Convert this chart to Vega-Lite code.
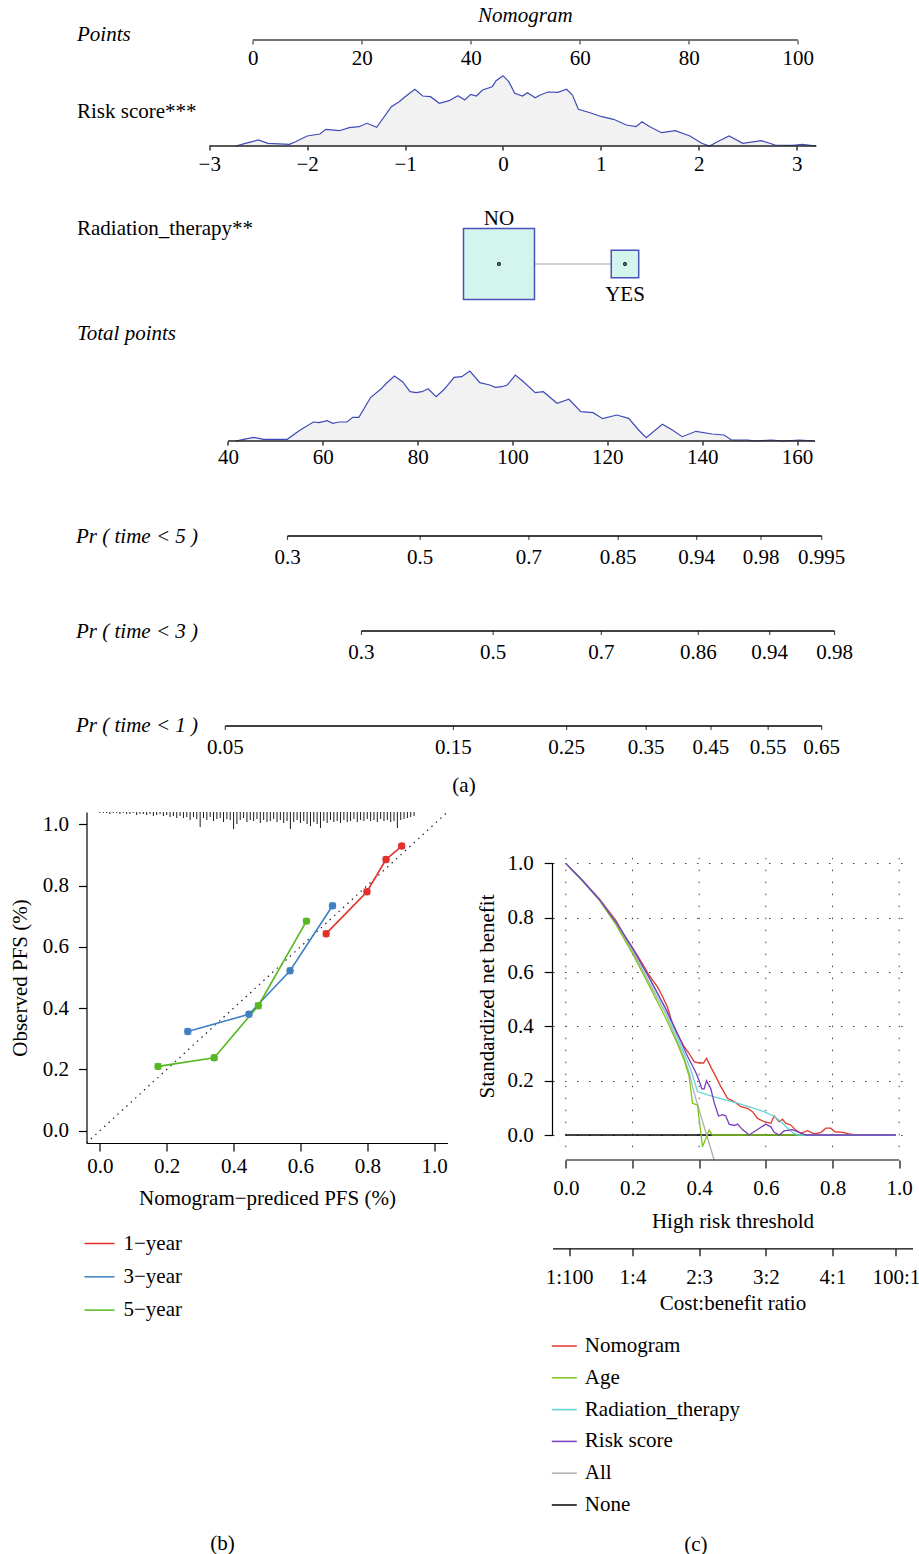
{
  "$schema": "https://vega.github.io/schema/vega-lite/v6.json",
  "autosize": {"type": "pad"},
  "padding": {"left": 9.5, "top": 0, "right": 0, "bottom": 0},
  "background": "white",
  "config": {
    "font": "Liberation Serif",
    "view": {"stroke": null},
    "axis": {"labelFont": "Liberation Serif", "titleFont": "Liberation Serif", "labelFontSize": 21, "titleFontSize": 21, "titleFontWeight": "normal", "labelColor": "#000", "titleColor": "#000", "tickColor": "#000", "domainColor": "#000", "grid": false, "labelFlush": false, "labelOverlap": false, "tickWidth": 1.2, "domainWidth": 1.2},
    "legend": {"labelFont": "Liberation Serif", "labelFontSize": 21, "labelColor": "#000", "padding": 0},
    "text": {"font": "Liberation Serif", "fontSize": 21, "color": "#000"},
    "title": {"font": "Liberation Serif", "fontSize": 21, "fontWeight": "normal", "color": "#000", "offset": 0}
  },
  "datasets": {
    "pointsTicks": [
      {"row": "Points", "points": 0}, {"row": "Points", "points": 20}, {"row": "Points", "points": 40}, {"row": "Points", "points": 60}, {"row": "Points", "points": 80}, {"row": "Points", "points": 100}
    ],
    "riskDens": [
      {"score": -2.73, "density": 0}, {"score": -2.63, "density": 0.027}, {"score": -2.5, "density": 0.06}, {"score": -2.4, "density": 0.027}, {"score": -2.18, "density": 0.017}, {"score": -2.12, "density": 0.043}, {"score": -2.0, "density": 0.1}, {"score": -1.87, "density": 0.12}, {"score": -1.81, "density": 0.167}, {"score": -1.67, "density": 0.153}, {"score": -1.57, "density": 0.183}, {"score": -1.47, "density": 0.193}, {"score": -1.39, "density": 0.227}, {"score": -1.29, "density": 0.187}, {"score": -1.14, "density": 0.393}, {"score": -1.06, "density": 0.443}, {"score": -1.0, "density": 0.493}, {"score": -0.9, "density": 0.567}, {"score": -0.82, "density": 0.5}, {"score": -0.74, "density": 0.493}, {"score": -0.65, "density": 0.427}, {"score": -0.55, "density": 0.453}, {"score": -0.46, "density": 0.503}, {"score": -0.39, "density": 0.46}, {"score": -0.33, "density": 0.517}, {"score": -0.27, "density": 0.5}, {"score": -0.21, "density": 0.56}, {"score": -0.11, "density": 0.593}, {"score": -0.07, "density": 0.653}, {"score": 0.0, "density": 0.703}, {"score": 0.06, "density": 0.643}, {"score": 0.12, "density": 0.527}, {"score": 0.2, "density": 0.5}, {"score": 0.25, "density": 0.533}, {"score": 0.33, "density": 0.483}, {"score": 0.38, "density": 0.51}, {"score": 0.46, "density": 0.54}, {"score": 0.56, "density": 0.537}, {"score": 0.65, "density": 0.567}, {"score": 0.71, "density": 0.51}, {"score": 0.77, "density": 0.367}, {"score": 0.89, "density": 0.333}, {"score": 1.01, "density": 0.293}, {"score": 1.13, "density": 0.267}, {"score": 1.26, "density": 0.21}, {"score": 1.36, "density": 0.193}, {"score": 1.42, "density": 0.243}, {"score": 1.5, "density": 0.193}, {"score": 1.62, "density": 0.133}, {"score": 1.76, "density": 0.153}, {"score": 1.91, "density": 0.1}, {"score": 2.03, "density": 0.027}, {"score": 2.11, "density": 0}, {"score": 2.19, "density": 0.043}, {"score": 2.31, "density": 0.1}, {"score": 2.45, "density": 0.027}, {"score": 2.64, "density": 0.053}, {"score": 2.78, "density": 0.01}, {"score": 2.96, "density": 0.007}, {"score": 3.06, "density": 0.017}, {"score": 3.2, "density": 0}
    ],
    "totalDens": [
      {"tp": 41.6, "density": 0}, {"tp": 43.3, "density": 0.017}, {"tp": 45.4, "density": 0.037}, {"tp": 47.5, "density": 0.017}, {"tp": 52.5, "density": 0.017}, {"tp": 55.0, "density": 0.103}, {"tp": 58.0, "density": 0.19}, {"tp": 59.2, "density": 0.183}, {"tp": 60.9, "density": 0.203}, {"tp": 62.1, "density": 0.177}, {"tp": 63.4, "density": 0.19}, {"tp": 65.1, "density": 0.19}, {"tp": 66.3, "density": 0.237}, {"tp": 67.6, "density": 0.237}, {"tp": 70.1, "density": 0.437}, {"tp": 72.2, "density": 0.517}, {"tp": 73.4, "density": 0.577}, {"tp": 75.1, "density": 0.65}, {"tp": 76.8, "density": 0.593}, {"tp": 78.4, "density": 0.493}, {"tp": 79.7, "density": 0.483}, {"tp": 80.9, "density": 0.493}, {"tp": 82.2, "density": 0.523}, {"tp": 83.9, "density": 0.443}, {"tp": 85.6, "density": 0.517}, {"tp": 87.7, "density": 0.637}, {"tp": 89.3, "density": 0.643}, {"tp": 91.0, "density": 0.7}, {"tp": 93.1, "density": 0.583}, {"tp": 95.2, "density": 0.56}, {"tp": 96.4, "density": 0.537}, {"tp": 97.7, "density": 0.543}, {"tp": 98.9, "density": 0.56}, {"tp": 100.6, "density": 0.66}, {"tp": 102.3, "density": 0.593}, {"tp": 104.8, "density": 0.483}, {"tp": 106.5, "density": 0.493}, {"tp": 109.4, "density": 0.377}, {"tp": 111.9, "density": 0.417}, {"tp": 114.4, "density": 0.293}, {"tp": 117.0, "density": 0.283}, {"tp": 119.0, "density": 0.223}, {"tp": 122.0, "density": 0.26}, {"tp": 124.5, "density": 0.227}, {"tp": 126.6, "density": 0.11}, {"tp": 128.2, "density": 0.033}, {"tp": 131.6, "density": 0.167}, {"tp": 133.7, "density": 0.11}, {"tp": 135.8, "density": 0.043}, {"tp": 138.7, "density": 0.097}, {"tp": 142.1, "density": 0.07}, {"tp": 144.6, "density": 0.06}, {"tp": 146.2, "density": 0.01}, {"tp": 149.6, "density": 0.01}, {"tp": 151.3, "density": 0}, {"tp": 154.6, "density": 0.01}, {"tp": 157.1, "density": 0}, {"tp": 160.5, "density": 0.01}, {"tp": 163.8, "density": 0}
    ],
    "rad": [
      {"level": "NO", "points": 45.17, "share": 0.87},
      {"level": "YES", "points": 68.29, "share": 0.13}
    ],
    "prTicks": [
      {"row": "Pr5", "label": "0.3", "tp": 52.55}, {"row": "Pr5", "label": "0.5", "tp": 80.53}, {"row": "Pr5", "label": "0.7", "tp": 103.46}, {"row": "Pr5", "label": "0.85", "tp": 122.29}, {"row": "Pr5", "label": "0.94", "tp": 138.85}, {"row": "Pr5", "label": "0.98", "tp": 152.41}, {"row": "Pr5", "label": "0.995", "tp": 165.21},
      {"row": "Pr3", "label": "0.3", "tp": 68.15}, {"row": "Pr3", "label": "0.5", "tp": 95.93}, {"row": "Pr3", "label": "0.7", "tp": 118.73}, {"row": "Pr3", "label": "0.86", "tp": 139.18}, {"row": "Pr3", "label": "0.94", "tp": 154.24}, {"row": "Pr3", "label": "0.98", "tp": 167.91},
      {"row": "Pr1", "label": "0.05", "tp": 39.43}, {"row": "Pr1", "label": "0.15", "tp": 87.54}, {"row": "Pr1", "label": "0.25", "tp": 111.41}, {"row": "Pr1", "label": "0.35", "tp": 128.2}, {"row": "Pr1", "label": "0.45", "tp": 141.86}, {"row": "Pr1", "label": "0.55", "tp": 153.92}, {"row": "Pr1", "label": "0.65", "tp": 165.21}
    ],
    "calib": [
      {"year": "1−year", "pred": 0.677, "obs": 0.643}, {"year": "1−year", "pred": 0.799, "obs": 0.78}, {"year": "1−year", "pred": 0.856, "obs": 0.885}, {"year": "1−year", "pred": 0.903, "obs": 0.929},
      {"year": "3−year", "pred": 0.263, "obs": 0.324}, {"year": "3−year", "pred": 0.446, "obs": 0.38}, {"year": "3−year", "pred": 0.569, "obs": 0.522}, {"year": "3−year", "pred": 0.696, "obs": 0.734},
      {"year": "5−year", "pred": 0.174, "obs": 0.21}, {"year": "5−year", "pred": 0.342, "obs": 0.238}, {"year": "5−year", "pred": 0.474, "obs": 0.408}, {"year": "5−year", "pred": 0.618, "obs": 0.684}
    ],
    "rug": [
      {"p": 0.0, "n": 1}, {"p": 0.01, "n": 1}, {"p": 0.02, "n": 1}, {"p": 0.03, "n": 2}, {"p": 0.04, "n": 1}, {"p": 0.05, "n": 1}, {"p": 0.06, "n": 2}, {"p": 0.07, "n": 1}, {"p": 0.08, "n": 2}, {"p": 0.09, "n": 2},
      {"p": 0.1, "n": 1}, {"p": 0.11, "n": 3}, {"p": 0.12, "n": 2}, {"p": 0.13, "n": 2}, {"p": 0.14, "n": 3}, {"p": 0.15, "n": 2}, {"p": 0.16, "n": 4}, {"p": 0.17, "n": 3}, {"p": 0.18, "n": 2}, {"p": 0.19, "n": 4},
      {"p": 0.2, "n": 3}, {"p": 0.21, "n": 5}, {"p": 0.22, "n": 4}, {"p": 0.23, "n": 6}, {"p": 0.24, "n": 4}, {"p": 0.25, "n": 6}, {"p": 0.26, "n": 5}, {"p": 0.27, "n": 8}, {"p": 0.28, "n": 5}, {"p": 0.29, "n": 7},
      {"p": 0.3, "n": 15}, {"p": 0.31, "n": 6}, {"p": 0.32, "n": 8}, {"p": 0.33, "n": 5}, {"p": 0.34, "n": 9}, {"p": 0.35, "n": 7}, {"p": 0.36, "n": 6}, {"p": 0.37, "n": 10}, {"p": 0.38, "n": 7}, {"p": 0.39, "n": 8},
      {"p": 0.4, "n": 17}, {"p": 0.41, "n": 12}, {"p": 0.42, "n": 8}, {"p": 0.43, "n": 6}, {"p": 0.44, "n": 10}, {"p": 0.45, "n": 8}, {"p": 0.46, "n": 9}, {"p": 0.47, "n": 7}, {"p": 0.48, "n": 11}, {"p": 0.49, "n": 8},
      {"p": 0.5, "n": 10}, {"p": 0.51, "n": 9}, {"p": 0.52, "n": 7}, {"p": 0.53, "n": 10}, {"p": 0.54, "n": 8}, {"p": 0.55, "n": 11}, {"p": 0.56, "n": 9}, {"p": 0.57, "n": 17}, {"p": 0.58, "n": 10}, {"p": 0.59, "n": 8},
      {"p": 0.6, "n": 11}, {"p": 0.61, "n": 9}, {"p": 0.62, "n": 12}, {"p": 0.63, "n": 14}, {"p": 0.64, "n": 10}, {"p": 0.65, "n": 12}, {"p": 0.66, "n": 16}, {"p": 0.67, "n": 9}, {"p": 0.68, "n": 11}, {"p": 0.69, "n": 8},
      {"p": 0.7, "n": 10}, {"p": 0.71, "n": 9}, {"p": 0.72, "n": 11}, {"p": 0.73, "n": 8}, {"p": 0.74, "n": 10}, {"p": 0.75, "n": 9}, {"p": 0.76, "n": 7}, {"p": 0.77, "n": 10}, {"p": 0.78, "n": 8}, {"p": 0.79, "n": 9},
      {"p": 0.8, "n": 7}, {"p": 0.81, "n": 9}, {"p": 0.82, "n": 8}, {"p": 0.83, "n": 10}, {"p": 0.84, "n": 7}, {"p": 0.85, "n": 9}, {"p": 0.86, "n": 8}, {"p": 0.87, "n": 10}, {"p": 0.88, "n": 9}, {"p": 0.89, "n": 16},
      {"p": 0.9, "n": 8}, {"p": 0.91, "n": 7}, {"p": 0.92, "n": 6}, {"p": 0.93, "n": 5}, {"p": 0.94, "n": 4}
    ],
    "dca": [
      {"model": "None", "t": 0, "nb": 0}, {"model": "None", "t": 0.99, "nb": 0},
      {"model": "All", "t": 0, "nb": 1}, {"model": "All", "t": 0.05, "nb": 0.935}, {"model": "All", "t": 0.1, "nb": 0.868}, {"model": "All", "t": 0.15, "nb": 0.78}, {"model": "All", "t": 0.2, "nb": 0.677}, {"model": "All", "t": 0.25, "nb": 0.562}, {"model": "All", "t": 0.3, "nb": 0.447}, {"model": "All", "t": 0.35, "nb": 0.3}, {"model": "All", "t": 0.37, "nb": 0.23}, {"model": "All", "t": 0.385, "nb": 0.155}, {"model": "All", "t": 0.405, "nb": 0.071}, {"model": "All", "t": 0.425, "nb": -0.01}, {"model": "All", "t": 0.445, "nb": -0.092},
      {"model": "Nomogram", "t": 0, "nb": 1}, {"model": "Nomogram", "t": 0.05, "nb": 0.937}, {"model": "Nomogram", "t": 0.1, "nb": 0.87}, {"model": "Nomogram", "t": 0.15, "nb": 0.79}, {"model": "Nomogram", "t": 0.175, "nb": 0.737}, {"model": "Nomogram", "t": 0.2, "nb": 0.69}, {"model": "Nomogram", "t": 0.225, "nb": 0.64}, {"model": "Nomogram", "t": 0.245, "nb": 0.598}, {"model": "Nomogram", "t": 0.26, "nb": 0.57}, {"model": "Nomogram", "t": 0.275, "nb": 0.545}, {"model": "Nomogram", "t": 0.29, "nb": 0.51}, {"model": "Nomogram", "t": 0.305, "nb": 0.47}, {"model": "Nomogram", "t": 0.32, "nb": 0.41}, {"model": "Nomogram", "t": 0.335, "nb": 0.372}, {"model": "Nomogram", "t": 0.355, "nb": 0.325}, {"model": "Nomogram", "t": 0.37, "nb": 0.3}, {"model": "Nomogram", "t": 0.385, "nb": 0.27}, {"model": "Nomogram", "t": 0.4, "nb": 0.265}, {"model": "Nomogram", "t": 0.413, "nb": 0.265}, {"model": "Nomogram", "t": 0.422, "nb": 0.282}, {"model": "Nomogram", "t": 0.435, "nb": 0.25}, {"model": "Nomogram", "t": 0.45, "nb": 0.215}, {"model": "Nomogram", "t": 0.465, "nb": 0.178}, {"model": "Nomogram", "t": 0.485, "nb": 0.135}, {"model": "Nomogram", "t": 0.505, "nb": 0.123}, {"model": "Nomogram", "t": 0.525, "nb": 0.104}, {"model": "Nomogram", "t": 0.545, "nb": 0.098}, {"model": "Nomogram", "t": 0.56, "nb": 0.086}, {"model": "Nomogram", "t": 0.575, "nb": 0.061}, {"model": "Nomogram", "t": 0.595, "nb": 0.049}, {"model": "Nomogram", "t": 0.615, "nb": 0.043}, {"model": "Nomogram", "t": 0.625, "nb": 0.07}, {"model": "Nomogram", "t": 0.64, "nb": 0.049}, {"model": "Nomogram", "t": 0.65, "nb": 0.058}, {"model": "Nomogram", "t": 0.66, "nb": 0.043}, {"model": "Nomogram", "t": 0.675, "nb": 0.037}, {"model": "Nomogram", "t": 0.69, "nb": 0.018}, {"model": "Nomogram", "t": 0.705, "nb": 0.006}, {"model": "Nomogram", "t": 0.725, "nb": 0.016}, {"model": "Nomogram", "t": 0.745, "nb": 0.004}, {"model": "Nomogram", "t": 0.765, "nb": 0.009}, {"model": "Nomogram", "t": 0.78, "nb": 0.025}, {"model": "Nomogram", "t": 0.795, "nb": 0.025}, {"model": "Nomogram", "t": 0.807, "nb": 0.012}, {"model": "Nomogram", "t": 0.83, "nb": 0.01}, {"model": "Nomogram", "t": 0.85, "nb": 0.004}, {"model": "Nomogram", "t": 0.87, "nb": 0}, {"model": "Nomogram", "t": 0.99, "nb": 0},
      {"model": "Age", "t": 0, "nb": 1}, {"model": "Age", "t": 0.05, "nb": 0.935}, {"model": "Age", "t": 0.1, "nb": 0.865}, {"model": "Age", "t": 0.15, "nb": 0.775}, {"model": "Age", "t": 0.2, "nb": 0.668}, {"model": "Age", "t": 0.25, "nb": 0.55}, {"model": "Age", "t": 0.3, "nb": 0.43}, {"model": "Age", "t": 0.335, "nb": 0.335}, {"model": "Age", "t": 0.355, "nb": 0.275}, {"model": "Age", "t": 0.37, "nb": 0.215}, {"model": "Age", "t": 0.38, "nb": 0.117}, {"model": "Age", "t": 0.395, "nb": 0.11}, {"model": "Age", "t": 0.41, "nb": -0.043}, {"model": "Age", "t": 0.43, "nb": 0.018}, {"model": "Age", "t": 0.44, "nb": 0}, {"model": "Age", "t": 0.99, "nb": 0},
      {"model": "Radiation_therapy", "t": 0, "nb": 1}, {"model": "Radiation_therapy", "t": 0.05, "nb": 0.937}, {"model": "Radiation_therapy", "t": 0.1, "nb": 0.868}, {"model": "Radiation_therapy", "t": 0.15, "nb": 0.785}, {"model": "Radiation_therapy", "t": 0.2, "nb": 0.686}, {"model": "Radiation_therapy", "t": 0.25, "nb": 0.576}, {"model": "Radiation_therapy", "t": 0.3, "nb": 0.46}, {"model": "Radiation_therapy", "t": 0.345, "nb": 0.33}, {"model": "Radiation_therapy", "t": 0.375, "nb": 0.24}, {"model": "Radiation_therapy", "t": 0.395, "nb": 0.16}, {"model": "Radiation_therapy", "t": 0.445, "nb": 0.14}, {"model": "Radiation_therapy", "t": 0.515, "nb": 0.117}, {"model": "Radiation_therapy", "t": 0.56, "nb": 0.1}, {"model": "Radiation_therapy", "t": 0.595, "nb": 0.086}, {"model": "Radiation_therapy", "t": 0.625, "nb": 0.068}, {"model": "Radiation_therapy", "t": 0.645, "nb": 0.05}, {"model": "Radiation_therapy", "t": 0.665, "nb": 0.025}, {"model": "Radiation_therapy", "t": 0.685, "nb": 0.005}, {"model": "Radiation_therapy", "t": 0.7, "nb": 0}, {"model": "Radiation_therapy", "t": 0.99, "nb": 0},
      {"model": "Risk score", "t": 0, "nb": 1}, {"model": "Risk score", "t": 0.05, "nb": 0.937}, {"model": "Risk score", "t": 0.1, "nb": 0.868}, {"model": "Risk score", "t": 0.15, "nb": 0.785}, {"model": "Risk score", "t": 0.2, "nb": 0.688}, {"model": "Risk score", "t": 0.25, "nb": 0.58}, {"model": "Risk score", "t": 0.3, "nb": 0.465}, {"model": "Risk score", "t": 0.34, "nb": 0.36}, {"model": "Risk score", "t": 0.365, "nb": 0.29}, {"model": "Risk score", "t": 0.38, "nb": 0.255}, {"model": "Risk score", "t": 0.39, "nb": 0.23}, {"model": "Risk score", "t": 0.4, "nb": 0.2}, {"model": "Risk score", "t": 0.408, "nb": 0.17}, {"model": "Risk score", "t": 0.415, "nb": 0.17}, {"model": "Risk score", "t": 0.422, "nb": 0.2}, {"model": "Risk score", "t": 0.435, "nb": 0.17}, {"model": "Risk score", "t": 0.445, "nb": 0.12}, {"model": "Risk score", "t": 0.458, "nb": 0.07}, {"model": "Risk score", "t": 0.47, "nb": 0.075}, {"model": "Risk score", "t": 0.48, "nb": 0.07}, {"model": "Risk score", "t": 0.49, "nb": 0.04}, {"model": "Risk score", "t": 0.505, "nb": 0.035}, {"model": "Risk score", "t": 0.515, "nb": 0.04}, {"model": "Risk score", "t": 0.53, "nb": 0.02}, {"model": "Risk score", "t": 0.55, "nb": 0}, {"model": "Risk score", "t": 0.575, "nb": 0.02}, {"model": "Risk score", "t": 0.6, "nb": 0.04}, {"model": "Risk score", "t": 0.615, "nb": 0.03}, {"model": "Risk score", "t": 0.625, "nb": 0.01}, {"model": "Risk score", "t": 0.64, "nb": 0}, {"model": "Risk score", "t": 0.655, "nb": 0.015}, {"model": "Risk score", "t": 0.68, "nb": 0.02}, {"model": "Risk score", "t": 0.7, "nb": 0.01}, {"model": "Risk score", "t": 0.72, "nb": 0}, {"model": "Risk score", "t": 0.99, "nb": 0}
    ]
  },
  "bounds": "flush",
  "spacing": 0,
  "vconcat": [
    {
      "width": 774, "height": 40,
      "resolve": {"axis": {"x": "independent", "y": "independent"}},
      "layer": [
        {
          "data": {"name": "pointsTicks"},
          "transform": [{"aggregate": [{"op": "min", "field": "points", "as": "lo"}, {"op": "max", "field": "points", "as": "hi"}]}],
          "mark": {"type": "rule", "color": "#444", "strokeWidth": 1.6},
          "encoding": {
            "x": {"field": "lo", "type": "quantitative", "scale": {"domain": [-30.51, 111.5], "nice": false, "zero": false},
                  "axis": {"orient": "bottom", "values": [0, 20, 40, 60, 80, 100], "domain": false, "tickSize": 4, "tickColor": "#444", "labelPadding": 20.5, "labelBaseline": "alphabetic", "title": "Points", "titleFontStyle": "italic", "titleX": -10, "titleY": 0.5, "titleAlign": "left", "titleBaseline": "alphabetic"}},
            "x2": {"field": "hi"},
            "y": {"datum": 0, "type": "quantitative", "scale": {"domain": [0, 1], "nice": false, "zero": false}, "axis": null}
          }
        },
        {
          "data": {"values": [{}]},
          "mark": {"type": "text", "fontStyle": "italic", "baseline": "alphabetic", "dy": 22},
          "encoding": {
            "x": {"datum": 50, "type": "quantitative", "axis": null},
            "y": {"datum": 1, "type": "quantitative", "axis": null},
            "text": {"value": "Nomogram"}
          }
        }
      ]
    },
    {
      "width": 774, "height": 106,
      "resolve": {"axis": {"x": "independent", "y": "independent"}},
      "layer": [
        {
          "data": {"name": "riskDens"},
          "mark": {"type": "area", "color": "#f2f2f2"},
          "encoding": {
            "x": {"field": "score", "type": "quantitative", "scale": {"domain": [-4.254, 3.652], "nice": false, "zero": false},
                  "axis": {"orient": "bottom", "values": [-3, -2, -1, 0, 1, 2, 3], "domain": false, "tickSize": 4, "labelPadding": 20, "labelBaseline": "alphabetic", "title": "Risk score***", "titleX": -10, "titleY": -29, "titleAlign": "left", "titleBaseline": "alphabetic"}},
            "y": {"field": "density", "type": "quantitative", "scale": {"domain": [0, 1.06], "nice": false, "zero": false}, "axis": null}
          }
        },
        {
          "data": {"name": "riskDens"},
          "mark": {"type": "line", "color": "#3f4bb6", "strokeWidth": 1.2},
          "encoding": {
            "x": {"field": "score", "type": "quantitative", "axis": null},
            "y": {"field": "density", "type": "quantitative", "axis": null}
          }
        },
        {
          "data": {"values": [{}]},
          "mark": {"type": "rule", "color": "#222", "strokeWidth": 1.6},
          "encoding": {
            "x": {"datum": -3, "type": "quantitative", "axis": null},
            "x2": {"datum": 3.2},
            "y": {"datum": 0, "type": "quantitative", "axis": null}
          }
        }
      ]
    },
    {
      "width": 774, "height": 236,
      "data": {"name": "rad"},
      "resolve": {"axis": {"x": "independent", "y": "independent"}},
      "layer": [
        {
          "transform": [{"aggregate": [{"op": "min", "field": "points", "as": "lo"}, {"op": "max", "field": "points", "as": "hi"}]}],
          "mark": {"type": "rule", "color": "#c4c4c4", "strokeWidth": 1.5},
          "encoding": {
            "x": {"field": "lo", "type": "quantitative", "scale": {"domain": [-30.51, 111.5], "nice": false, "zero": false},
                  "axis": {"orient": "bottom", "domain": false, "ticks": false, "labels": false, "title": "Radiation_therapy**", "titleX": -10, "titleY": -148, "titleAlign": "left", "titleBaseline": "alphabetic"}},
            "x2": {"field": "hi"},
            "y": {"datum": 0.5, "type": "quantitative", "scale": {"domain": [0, 1], "nice": false, "zero": false}, "axis": null}
          }
        },
        {
          "mark": {"type": "point", "shape": "square", "filled": true, "fill": "#d4f4ee", "stroke": "#4753b8", "strokeWidth": 1.5, "opacity": 1},
          "encoding": {
            "x": {"field": "points", "type": "quantitative", "axis": null},
            "y": {"datum": 0.5, "type": "quantitative", "axis": null},
            "size": {"field": "share", "type": "quantitative", "scale": {"type": "linear", "domain": [0, 1], "range": [0, 5795]}, "legend": null}
          }
        },
        {
          "mark": {"type": "point", "shape": "circle", "filled": false, "color": "#000", "strokeWidth": 1.2, "size": 7, "opacity": 1},
          "encoding": {
            "x": {"field": "points", "type": "quantitative", "axis": null},
            "y": {"datum": 0.5, "type": "quantitative", "axis": null}
          }
        },
        {
          "transform": [{"filter": "datum.level == 'NO'"}],
          "mark": {"type": "text", "baseline": "alphabetic", "dy": -39},
          "encoding": {
            "x": {"field": "points", "type": "quantitative", "axis": null},
            "y": {"datum": 0.5, "type": "quantitative", "axis": null},
            "text": {"field": "level"}
          }
        },
        {
          "transform": [{"filter": "datum.level == 'YES'"}],
          "mark": {"type": "text", "baseline": "alphabetic", "dy": 37},
          "encoding": {
            "x": {"field": "points", "type": "quantitative", "axis": null},
            "y": {"datum": 0.5, "type": "quantitative", "axis": null},
            "text": {"field": "level"}
          }
        }
      ]
    },
    {
      "width": 774, "height": 59,
      "resolve": {"axis": {"x": "independent", "y": "independent"}},
      "layer": [
        {
          "data": {"name": "totalDens"},
          "mark": {"type": "area", "color": "#f2f2f2"},
          "encoding": {
            "x": {"field": "tp", "type": "quantitative", "scale": {"domain": [10.16, 173.39], "nice": false, "zero": false},
                  "axis": {"orient": "bottom", "values": [40, 60, 80, 100, 120, 140, 160], "domain": false, "tickSize": 4, "labelPadding": 18.5, "labelBaseline": "alphabetic", "title": "Total points", "titleFontStyle": "italic", "titleX": -10, "titleY": -102, "titleAlign": "left", "titleBaseline": "alphabetic"}},
            "y": {"field": "density", "type": "quantitative", "scale": {"domain": [0, 0.59], "nice": false, "zero": false}, "axis": null}
          }
        },
        {
          "data": {"name": "totalDens"},
          "mark": {"type": "line", "color": "#3f4bb6", "strokeWidth": 1.2},
          "encoding": {
            "x": {"field": "tp", "type": "quantitative", "axis": null},
            "y": {"field": "density", "type": "quantitative", "axis": null}
          }
        },
        {
          "data": {"values": [{}]},
          "mark": {"type": "rule", "color": "#222", "strokeWidth": 1.6},
          "encoding": {
            "x": {"datum": 40, "type": "quantitative", "axis": null},
            "x2": {"datum": 163.8},
            "y": {"datum": 0, "type": "quantitative", "axis": null}
          }
        }
      ]
    },
    {
      "width": 774, "height": 95,
      "data": {"name": "prTicks"},
      "transform": [{"filter": "datum.row == 'Pr5'"}],
      "resolve": {"axis": {"x": "independent", "y": "independent"}},
      "layer": [
        {
          "transform": [{"aggregate": [{"op": "min", "field": "tp", "as": "lo"}, {"op": "max", "field": "tp", "as": "hi"}]}],
          "mark": {"type": "rule", "color": "#000", "strokeWidth": 1.4},
          "encoding": {
            "x": {"field": "lo", "type": "quantitative", "scale": {"domain": [10.16, 173.39], "nice": false, "zero": false},
                  "axis": {"orient": "bottom", "domain": false, "ticks": false, "labels": false, "title": "Pr ( time < 5 )", "titleFontStyle": "italic", "titleX": -11, "titleY": 6, "titleAlign": "left", "titleBaseline": "alphabetic"}},
            "x2": {"field": "hi"},
            "y": {"datum": 0, "type": "quantitative", "scale": {"domain": [0, 1], "nice": false, "zero": false}, "axis": null}
          }
        },
        {
          "mark": {"type": "tick", "orient": "vertical", "size": 4, "thickness": 1.2, "yOffset": 2, "color": "#000"},
          "encoding": {
            "x": {"field": "tp", "type": "quantitative", "axis": null},
            "y": {"datum": 0, "type": "quantitative", "axis": null}
          }
        },
        {
          "mark": {"type": "text", "baseline": "alphabetic", "dy": 27.5},
          "encoding": {
            "x": {"field": "tp", "type": "quantitative", "axis": null},
            "y": {"datum": 0, "type": "quantitative", "axis": null},
            "text": {"field": "label"}
          }
        }
      ]
    },
    {
      "width": 774, "height": 95,
      "data": {"name": "prTicks"},
      "transform": [{"filter": "datum.row == 'Pr3'"}],
      "resolve": {"axis": {"x": "independent", "y": "independent"}},
      "layer": [
        {
          "transform": [{"aggregate": [{"op": "min", "field": "tp", "as": "lo"}, {"op": "max", "field": "tp", "as": "hi"}]}],
          "mark": {"type": "rule", "color": "#000", "strokeWidth": 1.4},
          "encoding": {
            "x": {"field": "lo", "type": "quantitative", "scale": {"domain": [10.16, 173.39], "nice": false, "zero": false},
                  "axis": {"orient": "bottom", "domain": false, "ticks": false, "labels": false, "title": "Pr ( time < 3 )", "titleFontStyle": "italic", "titleX": -11, "titleY": 6, "titleAlign": "left", "titleBaseline": "alphabetic"}},
            "x2": {"field": "hi"},
            "y": {"datum": 0, "type": "quantitative", "scale": {"domain": [0, 1], "nice": false, "zero": false}, "axis": null}
          }
        },
        {
          "mark": {"type": "tick", "orient": "vertical", "size": 4, "thickness": 1.2, "yOffset": 2, "color": "#000"},
          "encoding": {
            "x": {"field": "tp", "type": "quantitative", "axis": null},
            "y": {"datum": 0, "type": "quantitative", "axis": null}
          }
        },
        {
          "mark": {"type": "text", "baseline": "alphabetic", "dy": 27.5},
          "encoding": {
            "x": {"field": "tp", "type": "quantitative", "axis": null},
            "y": {"datum": 0, "type": "quantitative", "axis": null},
            "text": {"field": "label"}
          }
        }
      ]
    },
    {
      "width": 774, "height": 95,
      "data": {"name": "prTicks"},
      "transform": [{"filter": "datum.row == 'Pr1'"}],
      "resolve": {"axis": {"x": "independent", "y": "independent"}},
      "layer": [
        {
          "transform": [{"aggregate": [{"op": "min", "field": "tp", "as": "lo"}, {"op": "max", "field": "tp", "as": "hi"}]}],
          "mark": {"type": "rule", "color": "#000", "strokeWidth": 1.4},
          "encoding": {
            "x": {"field": "lo", "type": "quantitative", "scale": {"domain": [10.16, 173.39], "nice": false, "zero": false},
                  "axis": {"orient": "bottom", "domain": false, "ticks": false, "labels": false, "title": "Pr ( time < 1 )", "titleFontStyle": "italic", "titleX": -11, "titleY": 5, "titleAlign": "left", "titleBaseline": "alphabetic"}},
            "x2": {"field": "hi"},
            "y": {"datum": 0, "type": "quantitative", "scale": {"domain": [0, 1], "nice": false, "zero": false}, "axis": null}
          }
        },
        {
          "mark": {"type": "tick", "orient": "vertical", "size": 4, "thickness": 1.2, "yOffset": 2, "color": "#000"},
          "encoding": {
            "x": {"field": "tp", "type": "quantitative", "axis": null},
            "y": {"datum": 0, "type": "quantitative", "axis": null}
          }
        },
        {
          "mark": {"type": "text", "baseline": "alphabetic", "dy": 27.5},
          "encoding": {
            "x": {"field": "tp", "type": "quantitative",
                  "axis": {"orient": "bottom", "domain": false, "ticks": false, "labels": false, "title": "(a)", "titleX": 377, "titleY": 65, "titleAlign": "center", "titleBaseline": "alphabetic"}},
            "y": {"datum": 0, "type": "quantitative", "axis": null},
            "text": {"field": "label"}
          }
        }
      ]
    },
    {
      "width": 774, "height": 86,
      "data": {"values": [{}]},
      "mark": {"type": "text", "text": ""}
    },
    {
      "bounds": "flush",
      "spacing": 105,
      "resolve": {"scale": {"color": "independent"}, "legend": {"color": "independent"}},
      "hconcat": [
        {
          "width": 361, "height": 331,
          "title": {"text": "(b)", "orient": "top", "anchor": "middle", "frame": "group", "baseline": "alphabetic", "dx": -44.5, "dy": 760, "offset": 0},
          "resolve": {"scale": {"y": "independent"}, "axis": {"x": "independent", "y": "independent"}},
          "layer": [
            {
              "data": {"name": "rug"},
              "mark": {"type": "rule", "color": "#000", "strokeWidth": 0.9},
              "encoding": {
                "x": {"field": "p", "type": "quantitative", "scale": {"domain": [-0.04, 1.04], "nice": false, "zero": false}, "axis": null},
                "y": {"field": "n", "type": "quantitative", "scale": {"domain": [0, 331], "reverse": true, "nice": false, "zero": false}, "axis": null},
                "y2": {"datum": 0}
              }
            },
            {
              "data": {"values": [{}]},
              "mark": {"type": "rule", "color": "#222", "strokeWidth": 1.2, "strokeDash": [1.5, 4.5]},
              "encoding": {
                "x": {"datum": -0.04, "type": "quantitative", "axis": null},
                "y": {"datum": -0.04, "type": "quantitative", "scale": {"domain": [-0.04, 1.04], "nice": false, "zero": false}, "axis": null},
                "x2": {"datum": 1.04},
                "y2": {"datum": 1.04}
              }
            },
            {
              "data": {"name": "calib"},
              "mark": {"type": "line", "strokeWidth": 1.6},
              "encoding": {
                "x": {"field": "pred", "type": "quantitative",
                      "axis": {"orient": "bottom", "values": [0, 0.2, 0.4, 0.6, 0.8, 1], "format": ".1f", "tickSize": 8, "labelPadding": 21, "labelBaseline": "alphabetic", "title": "Nomogram−prediced PFS (%)", "titleY": 61, "titleBaseline": "alphabetic"}},
                "y": {"field": "obs", "type": "quantitative", "scale": {"domain": [-0.04, 1.04], "nice": false, "zero": false},
                      "axis": {"orient": "left", "values": [0, 0.2, 0.4, 0.6, 0.8, 1], "format": ".1f", "tickSize": 8, "labelPadding": 10, "title": "Observed PFS (%)", "titleX": -66, "titleY": 165.5, "titleAngle": 270, "titleAlign": "center", "titleBaseline": "middle"}},
                "color": {"field": "year", "type": "nominal",
                          "scale": {"domain": ["1−year", "3−year", "5−year"], "range": ["#e3302a", "#3f80c2", "#55b821"]},
                          "legend": {"orient": "none", "legendX": -3, "legendY": 415.5, "title": null, "symbolType": "stroke", "symbolSize": 900, "symbolStrokeWidth": 1.5, "labelOffset": 8, "rowPadding": 7.3, "labelFontSize": 21}}
              }
            },
            {
              "data": {"name": "calib"},
              "mark": {"type": "point", "shape": "M-1,-1L1,1M-1,1L1,-1", "filled": false, "color": "#4a4fc4", "strokeWidth": 0.9, "size": 40, "opacity": 1},
              "encoding": {
                "x": {"field": "pred", "type": "quantitative", "axis": null},
                "y": {"field": "obs", "type": "quantitative", "scale": {"domain": [-0.04, 1.04], "nice": false, "zero": false}, "axis": null}
              }
            },
            {
              "data": {"name": "calib"},
              "mark": {"type": "circle", "size": 55, "opacity": 1},
              "encoding": {
                "x": {"field": "pred", "type": "quantitative", "axis": null},
                "y": {"field": "obs", "type": "quantitative", "scale": {"domain": [-0.04, 1.04], "nice": false, "zero": false}, "axis": null},
                "color": {"field": "year", "type": "nominal", "legend": null}
              }
            }
          ]
        },
        {
          "width": 360, "height": 348,
          "title": {"text": "(c)", "orient": "top", "anchor": "middle", "frame": "group", "baseline": "alphabetic", "dx": -36.7, "dy": 760, "offset": 0},
          "resolve": {"axis": {"x": "independent", "y": "independent"}},
          "layer": [
            {
              "data": {"values": [{"g": 0}, {"g": 0.2}, {"g": 0.4}, {"g": 0.6}, {"g": 0.8}, {"g": 1}]},
              "mark": {"type": "rule", "color": "#444", "strokeWidth": 1, "strokeDash": [1.5, 10.5]},
              "encoding": {
                "x": {"field": "g", "type": "quantitative", "scale": {"domain": [-0.04, 1.04], "nice": false, "zero": false},
                      "axis": {"orient": "bottom", "offset": 88.3, "values": [0.0099, 0.2, 0.4, 0.6, 0.8, 0.99],
                               "labelExpr": "datum.value < 0.1 ? '1:100' : datum.value < 0.3 ? '1:4' : datum.value < 0.5 ? '2:3' : datum.value < 0.7 ? '3:2' : datum.value < 0.9 ? '4:1' : '100:1'",
                               "domain": true, "tickSize": 7.5, "labelPadding": 27.5, "labelBaseline": "alphabetic", "title": "Cost:benefit ratio", "titleY": 61, "titleBaseline": "alphabetic"}},
                "y": {"datum": -0.045, "type": "quantitative", "scale": {"domain": [-0.092, 1.189], "nice": false, "zero": false}, "axis": null},
                "y2": {"datum": 1.02}
              }
            },
            {
              "data": {"name": "dca"},
              "mark": {"type": "line", "strokeWidth": 1.3},
              "encoding": {
                "x": {"field": "t", "type": "quantitative",
                      "axis": {"orient": "bottom", "values": [0, 0.2, 0.4, 0.6, 0.8, 1], "format": ".1f", "domain": false, "tickSize": 8, "labelPadding": 26.5, "labelBaseline": "alphabetic", "title": "High risk threshold", "titleY": 67.5, "titleBaseline": "alphabetic"}},
                "y": {"field": "nb", "type": "quantitative",
                      "axis": {"orient": "left", "values": [0, 0.2, 0.4, 0.6, 0.8, 1], "format": ".1f", "domain": false, "tickSize": 8.3, "labelPadding": 11, "grid": true, "gridDash": [1.5, 10.5], "gridColor": "#444", "gridWidth": 1, "title": "Standardized net benefit", "titleX": -64.7, "titleY": 184, "titleAngle": 270, "titleAlign": "center", "titleBaseline": "middle"}},
                "color": {"field": "model", "type": "nominal",
                          "scale": {"domain": ["Nomogram", "Age", "Radiation_therapy", "Risk score", "All", "None"], "range": ["#e0392e", "#7cc51b", "#5fd4d8", "#7a3bbf", "#b0b0b0", "#000000"]},
                          "legend": {"orient": "none", "legendX": -1.7, "legendY": 520.5, "title": null, "symbolType": "stroke", "symbolSize": 625, "symbolStrokeWidth": 1.5, "labelOffset": 7, "rowPadding": 7.8, "labelFontSize": 21}}
              }
            },
            {
              "data": {"values": [{}]},
              "mark": {"type": "rule", "color": "#000", "strokeWidth": 1.2},
              "encoding": {
                "x": {"datum": -0.04, "type": "quantitative", "axis": null},
                "y": {"datum": 0, "type": "quantitative", "axis": null},
                "y2": {"datum": 1}
              }
            },
            {
              "data": {"values": [{}]},
              "mark": {"type": "rule", "color": "#000", "strokeWidth": 1.2},
              "encoding": {
                "x": {"datum": 0, "type": "quantitative", "axis": null},
                "x2": {"datum": 1},
                "y": {"datum": -0.092, "type": "quantitative", "axis": null}
              }
            }
          ]
        }
      ]
    }
  ]
}
